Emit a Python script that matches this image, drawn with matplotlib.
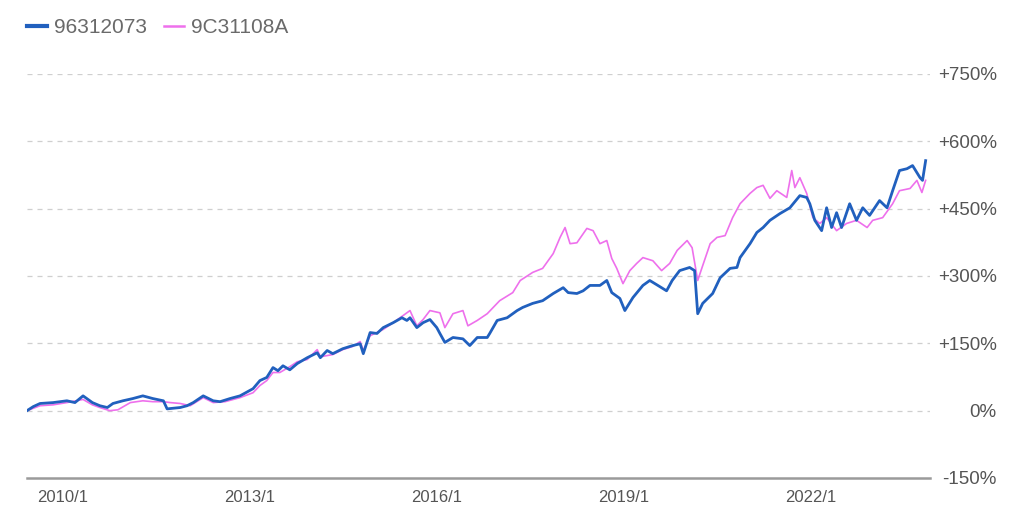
import matplotlib
matplotlib.use("Agg")
import matplotlib.pyplot as plt
from matplotlib.lines import Line2D

# ---- data (decimal year, cumulative return %) ----
blue_name = "96312073"
blue_x = [2009.42, 2009.52, 2009.63, 2009.84, 2010.06, 2010.19, 2010.32, 2010.47, 2010.59, 2010.71,
          2010.80, 2010.96, 2011.12, 2011.28, 2011.44, 2011.61, 2011.67, 2011.88, 2011.99, 2012.09,
          2012.25, 2012.41, 2012.52, 2012.68, 2012.84, 2013.05, 2013.16, 2013.27, 2013.37, 2013.45,
          2013.53, 2013.64, 2013.76, 2013.92, 2014.08, 2014.13, 2014.24, 2014.33, 2014.49, 2014.65,
          2014.77, 2014.82, 2014.93, 2015.04, 2015.14, 2015.30, 2015.44, 2015.52, 2015.57, 2015.68,
          2015.78, 2015.89, 2016.00, 2016.05, 2016.13, 2016.26, 2016.42, 2016.53, 2016.65, 2016.81,
          2016.85, 2016.97, 2017.13, 2017.29, 2017.38, 2017.54, 2017.70, 2017.87, 2018.03, 2018.11,
          2018.25, 2018.35, 2018.46, 2018.62, 2018.73, 2018.81, 2018.94, 2019.02, 2019.15, 2019.31,
          2019.42, 2019.55, 2019.69, 2019.78, 2019.90, 2020.06, 2020.14, 2020.19, 2020.27, 2020.43,
          2020.55, 2020.71, 2020.82, 2020.87, 2021.03, 2021.14, 2021.24, 2021.35, 2021.51, 2021.67,
          2021.83, 2021.94, 2021.99, 2022.07, 2022.18, 2022.26, 2022.34, 2022.42, 2022.50, 2022.63,
          2022.74, 2022.84, 2022.95, 2023.11, 2023.23, 2023.32, 2023.43, 2023.55, 2023.64, 2023.76,
          2023.80, 2023.85]
blue_y = [0, 9, 16, 18, 22, 18, 33, 18, 11, 7,
          16, 22, 27, 33, 27, 22, 4, 7, 11, 18,
          33, 22, 20, 27, 33, 49, 67, 74, 96, 89,
          100, 91, 105, 118, 129, 118, 134, 127, 138, 145,
          149, 127, 174, 172, 185, 196, 207, 201, 207, 185,
          196, 203, 185, 172, 152, 163, 160, 145, 163, 163,
          172, 201, 207, 223, 230, 239, 245, 261, 274, 263,
          261, 267, 279, 279, 290, 263, 250, 223, 252, 279,
          290, 279, 267, 290, 312, 319, 312, 216, 239, 261,
          296, 317, 319, 341, 372, 397, 408, 424, 439, 452,
          479, 475, 461, 424, 401, 452, 408, 441, 408, 461,
          424, 452, 435, 468, 452, 490, 535, 539, 546, 519,
          513, 557]

pink_name = "9C31108A"
pink_x = [2009.42, 2009.63, 2009.84, 2010.06, 2010.32, 2010.47, 2010.59, 2010.75, 2010.88, 2011.08,
          2011.28, 2011.44, 2011.61, 2011.72, 2011.88, 2012.04, 2012.25, 2012.41, 2012.60, 2012.84,
          2013.05, 2013.16, 2013.27, 2013.37, 2013.48, 2013.64, 2013.76, 2013.92, 2014.08, 2014.13,
          2014.33, 2014.49, 2014.65, 2014.77, 2014.82, 2014.93, 2015.14, 2015.30, 2015.57, 2015.68,
          2015.78, 2015.89, 2016.05, 2016.13, 2016.26, 2016.42, 2016.50, 2016.65, 2016.81, 2017.01,
          2017.22, 2017.34, 2017.54, 2017.70, 2017.87, 2017.98, 2018.06, 2018.14, 2018.25, 2018.41,
          2018.51, 2018.62, 2018.73, 2018.81, 2018.89, 2018.99, 2019.10, 2019.21, 2019.31, 2019.47,
          2019.61, 2019.74, 2019.86, 2020.02, 2020.10, 2020.19, 2020.26, 2020.39, 2020.50, 2020.63,
          2020.75, 2020.87, 2021.03, 2021.14, 2021.24, 2021.35, 2021.46, 2021.62, 2021.70, 2021.75,
          2021.83, 2021.94, 2022.04, 2022.15, 2022.26, 2022.42, 2022.58, 2022.74, 2022.91, 2023.00,
          2023.16, 2023.32, 2023.43, 2023.60, 2023.71, 2023.79, 2023.85]
pink_y = [0, 11, 13, 18, 25, 13, 7, 0, 2, 18,
          22, 20, 20, 18, 16, 11, 29, 18, 20, 29,
          40, 56, 67, 85, 85, 98, 109, 114, 136, 120,
          125, 136, 143, 154, 134, 167, 181, 196, 223, 189,
          203, 223, 218, 185, 216, 223, 189, 201, 216, 245,
          263, 290, 308, 317, 350, 386, 408, 372, 374, 406,
          401, 372, 379, 339, 317, 283, 312, 328, 341, 334,
          312, 328, 357, 379, 363, 290, 319, 372, 386, 390,
          430, 461, 484, 497, 502, 473, 490, 475, 535, 497,
          519, 484, 430, 417, 430, 401, 417, 424, 408, 424,
          430, 461, 490, 495, 513, 486, 513]

y_ticks = [-150, 0, 150, 300, 450, 600, 750]
y_tick_labels = ["-150%", "0%", "+150%", "+300%", "+450%", "+600%", "+750%"]
x_ticks = [2010.0, 2013.0, 2016.0, 2019.0, 2022.0]
x_tick_labels = ["2010/1", "2013/1", "2016/1", "2019/1", "2022/1"]

BLUE = "#2160BE"
PINK = "#EE70EC"
TEXT = "#555555"

plt.rcParams['font.family'] = ['Liberation Sans', 'DejaVu Sans']

fig = plt.figure(figsize=(10.24, 5.16), dpi=100)
ax = fig.add_axes([27/1024, (516-478)/516, (930-27)/1024, (478-74)/516])

ax.plot(pink_x, pink_y, color=PINK, lw=1.2, zorder=3)
ax.plot(blue_x, blue_y, color=BLUE, lw=2.0, zorder=4)

ax.set_xlim(2009.42, 2023.92)
ax.set_ylim(-150, 750)

for v in y_ticks[1:]:
    ax.axhline(v, color="#cfcfcf", lw=0.9, ls=(0, (4, 4)), zorder=1)

for s in ["top", "left", "right"]:
    ax.spines[s].set_visible(False)
ax.spines["bottom"].set_color("#9a9a9a")
ax.spines["bottom"].set_linewidth(1.8)

ax.set_xticks(x_ticks)
ax.set_xticklabels(x_tick_labels)
ax.tick_params(axis="x", length=0, pad=9, labelsize=12, labelcolor=TEXT)

ax.yaxis.tick_right()
ax.set_yticks(y_ticks)
ax.set_yticklabels(y_tick_labels)
ax.tick_params(axis="y", length=0, pad=48, labelsize=13.5, labelcolor=TEXT)
for lab in ax.get_yticklabels():
    lab.set_horizontalalignment("right")

handles = [Line2D([], [], color=BLUE, lw=3.0), Line2D([], [], color=PINK, lw=1.8)]
fig.legend(handles, [blue_name, pink_name], loc="upper left",
           bbox_to_anchor=(27/1024, 1 - 18/516), ncol=2, frameon=False,
           borderpad=0, borderaxespad=0,
           handlelength=0.95, handletextpad=0.35, columnspacing=0.8,
           prop={"size": 15}, labelcolor="#6a6a6a")

fig.savefig("out.png", dpi=100)
